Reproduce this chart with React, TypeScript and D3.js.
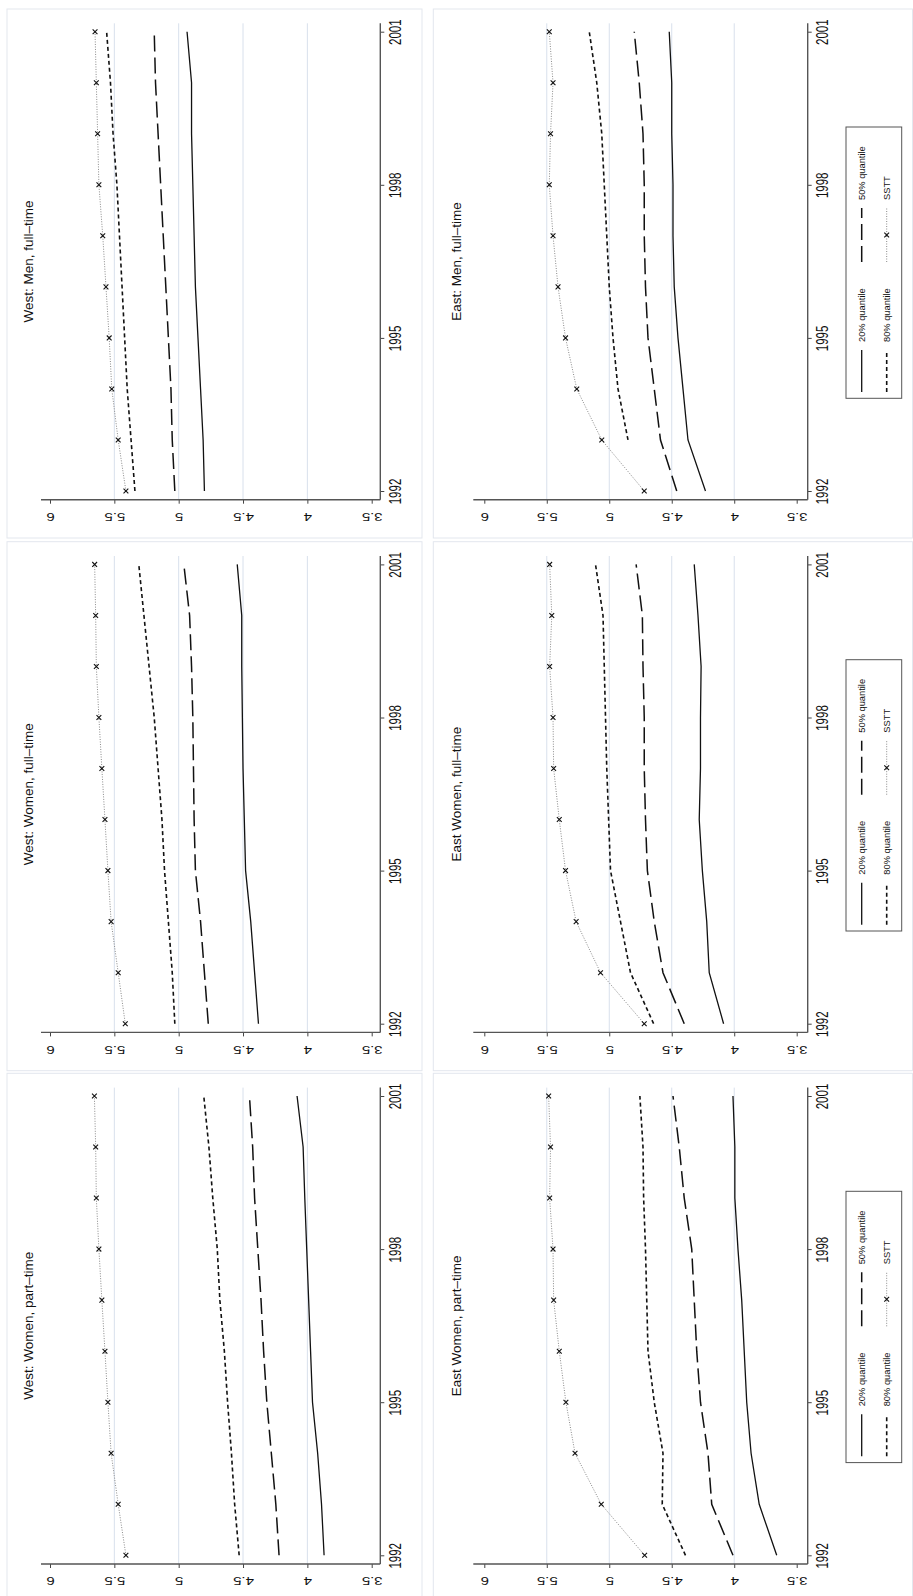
import React, { useRef, useEffect } from 'react';
import * as d3 from 'd3';

const years = [1992, 1993, 1994, 1995, 1996, 1997, 1998, 1999, 2000, 2001];
const yearTicks = [1992, 1995, 1998, 2001];
const valueTicks = [6, 5.5, 5, 4.5, 4, 3.5];
const gridValues = [5.5, 5, 4.5, 4];
const seriesNames = ['20% quantile', '50% quantile', '80% quantile', 'SSTT'];

// West: Men, full-time
const westMenQ20 = [4.8, 4.81, 4.83, 4.85, 4.87, 4.88, 4.89, 4.9, 4.9, 4.935];
const westMenQ50 = [5.03, 5.05, 5.06, 5.08, 5.1, 5.12, 5.14, 5.16, 5.18, 5.19];
const westMenQ80 = [5.34, 5.37, 5.4, 5.42, 5.44, 5.46, 5.48, 5.51, 5.53, 5.56];
const westMenSSTT = [5.41, 5.47, 5.52, 5.54, 5.565, 5.59, 5.62, 5.63, 5.64, 5.65];

// East: Men, full-time (80% quantile starts in 1993)
const eastMenQ20 = [4.23, 4.37, 4.41, 4.45, 4.48, 4.49, 4.49, 4.5, 4.5, 4.52];
const eastMenQ50 = [4.46, 4.59, 4.64, 4.69, 4.71, 4.72, 4.72, 4.73, 4.76, 4.8];
const eastMenQ80 = [null, 4.85, 4.93, 4.97, 5.0, 5.02, 5.04, 5.06, 5.1, 5.16];
const eastMenSSTT = [4.72, 5.06, 5.26, 5.35, 5.41, 5.45, 5.48, 5.47, 5.45, 5.48];

// West: Women, full-time
const westWomenFtQ20 = [4.38, 4.41, 4.44, 4.48, 4.49, 4.5, 4.505, 4.51, 4.51, 4.545];
const westWomenFtQ50 = [4.77, 4.8, 4.83, 4.87, 4.88, 4.885, 4.89, 4.9, 4.915, 4.96];
const westWomenFtQ80 = [5.03, 5.05, 5.08, 5.11, 5.13, 5.16, 5.19, 5.23, 5.27, 5.31];
const westWomenFtSSTT = [5.415, 5.47, 5.525, 5.55, 5.573, 5.597, 5.62, 5.64, 5.645, 5.653];

// East: Women, full-time
const eastWomenFtQ20 = [4.085, 4.2, 4.22, 4.255, 4.28, 4.27, 4.27, 4.265, 4.29, 4.32];
const eastWomenFtQ50 = [4.4, 4.57, 4.64, 4.695, 4.71, 4.72, 4.72, 4.73, 4.735, 4.785];
const eastWomenFtQ80 = [4.645, 4.83, 4.91, 4.99, 5.005, 5.02, 5.03, 5.04, 5.05, 5.11];
const eastWomenFtSSTT = [4.72, 5.07, 5.265, 5.35, 5.4, 5.445, 5.45, 5.477, 5.46, 5.477];

// West: Women, part-time
const westWomenPtQ20 = [3.87, 3.89, 3.92, 3.96, 3.975, 3.99, 4.005, 4.02, 4.033, 4.08];
const westWomenPtQ50 = [4.22, 4.245, 4.28, 4.315, 4.34, 4.36, 4.385, 4.41, 4.425, 4.45];
const westWomenPtQ80 = [4.53, 4.565, 4.59, 4.62, 4.645, 4.68, 4.7, 4.735, 4.765, 4.805];
const westWomenPtSSTT = [5.41, 5.47, 5.525, 5.55, 5.573, 5.597, 5.62, 5.64, 5.645, 5.655];

// East: Women, part-time
const eastWomenPtQ20 = [3.66, 3.8, 3.865, 3.9, 3.92, 3.94, 3.97, 3.995, 3.995, 4.01];
const eastWomenPtQ50 = [4.01, 4.18, 4.21, 4.27, 4.3, 4.32, 4.34, 4.4, 4.44, 4.49];
const eastWomenPtQ80 = [4.39, 4.576, 4.57, 4.64, 4.69, 4.7, 4.71, 4.725, 4.73, 4.755];
const eastWomenPtSSTT = [4.717, 5.064, 5.274, 5.347, 5.4, 5.445, 5.45, 5.477, 5.47, 5.485];

const panels = [
  { title: 'West: Men, full\u2013time', col: 0, row: 0, series: [westMenQ20, westMenQ50, westMenQ80, westMenSSTT] },
  { title: 'East: Men, full\u2013time', col: 1, row: 0, series: [eastMenQ20, eastMenQ50, eastMenQ80, eastMenSSTT] },
  { title: 'West: Women, full\u2013time', col: 0, row: 1, series: [westWomenFtQ20, westWomenFtQ50, westWomenFtQ80, westWomenFtSSTT] },
  { title: 'East Women, full\u2013time', col: 1, row: 1, series: [eastWomenFtQ20, eastWomenFtQ50, eastWomenFtQ80, eastWomenFtSSTT] },
  { title: 'West: Women, part\u2013time', col: 0, row: 2, series: [westWomenPtQ20, westWomenPtQ50, westWomenPtQ80, westWomenPtSSTT] },
  { title: 'East Women, part\u2013time', col: 1, row: 2, series: [eastWomenPtQ20, eastWomenPtQ50, eastWomenPtQ80, eastWomenPtSSTT] },
];

const FONT = '"Liberation Sans", Arial, Helvetica, sans-serif';
const W = 913;
const H = 1596;

// the whole figure is a Stata graph turned 90deg counter-clockwise
const cols = [
  { x0: 7, x1: 422, left: 41, axis: 380.3, v6: 50, v35: 371.7, titleX: 28, legend: false },
  { x0: 433.3, x1: 912.5, left: 473.3, axis: 807.7, v6: 484.3, v35: 796.7, titleX: 456.7, legend: true },
];
const rowTops = [9, 541.7, 1073.3];

const styles = [
  { dash: null, width: 1.3, color: '#111' },
  { dash: '16 6', width: 1.5, color: '#111' },
  { dash: '4 3', width: 1.6, color: '#111' },
  { dash: '1 1.5', width: 1, color: '#8a8a8a' },
];

const xMark = (g, cx, cy, r = 2.4) => {
  g.append('path')
    .attr('d', `M${cx - r},${cy - r}L${cx + r},${cy + r}M${cx - r},${cy + r}L${cx + r},${cy - r}`)
    .attr('stroke', '#111')
    .attr('stroke-width', 1.1)
    .attr('fill', 'none');
};

const App = () => {
  const ref = useRef(null);

  useEffect(() => {
    if (!ref.current) return;
    const svg = d3.select(ref.current);
    svg.selectAll('*').remove();

    svg.append('rect').attr('width', W).attr('height', H).attr('fill', '#fff');

    panels.forEach((p) => {
      const c = cols[p.col];
      const top = rowTops[p.row];
      const g = svg.append('g');

      const x = d3.scaleLinear().domain([6, 3.5]).range([c.v6, c.v35]);
      const y = d3.scaleLinear().domain([1992, 2001]).range([top + 482, top + 22.7]);
      const plotTop = top + 14.3;
      const axisY = top + 490.7;

      // panel frame
      g.append('rect')
        .attr('x', c.x0).attr('y', top)
        .attr('width', c.x1 - c.x0).attr('height', 529)
        .attr('fill', '#fff')
        .attr('stroke', '#e3e7ee')
        .attr('stroke-width', 1);

      // grid
      g.selectAll('line.grid')
        .data(gridValues)
        .enter()
        .append('line')
        .attr('class', 'grid')
        .attr('x1', (d) => x(d)).attr('x2', (d) => x(d))
        .attr('y1', plotTop).attr('y2', axisY)
        .attr('stroke', '#d8e0ec')
        .attr('stroke-width', 1);

      // value axis (bottom of screen, left axis of the original)
      const vAxis = g.append('g')
        .attr('transform', `translate(0,${axisY})`)
        .call(d3.axisBottom(x).tickValues(valueTicks).tickSize(4).tickFormat(d3.format('')));
      vAxis.select('.domain').remove();
      vAxis.attr('color', '#444');
      vAxis.selectAll('text')
        .attr('x', 0).attr('y', 0).attr('dy', '0.35em')
        .attr('transform', 'translate(0,17) scale(1.36,1) rotate(180)')
        .attr('fill', '#111')
        .style('font-size', '11px')
        .style('font-family', FONT);
      g.append('line')
        .attr('x1', c.left).attr('x2', c.axis)
        .attr('y1', axisY).attr('y2', axisY)
        .attr('stroke', '#555').attr('stroke-width', 1.4);

      // year axis (right of screen, bottom axis of the original)
      const yAxis = g.append('g')
        .attr('transform', `translate(${c.axis},0)`)
        .call(d3.axisRight(y).tickValues(yearTicks).tickSize(4).tickFormat(d3.format('d')));
      yAxis.select('.domain').remove();
      yAxis.attr('color', '#444');
      yAxis.selectAll('text')
        .attr('x', 0).attr('y', 0).attr('dy', '0.35em')
        .attr('text-anchor', 'middle')
        .attr('transform', 'translate(15,0) scale(1.36,1) rotate(-90)')
        .attr('fill', '#111')
        .style('font-size', '11.5px')
        .style('font-family', FONT);
      g.append('line')
        .attr('x1', c.axis).attr('x2', c.axis)
        .attr('y1', plotTop).attr('y2', axisY)
        .attr('stroke', '#555').attr('stroke-width', 1.4);

      // series
      p.series.forEach((vals, i) => {
        const s = styles[i];
        const pts = years.map((yr, k) => [yr, vals[k]]);
        const line = d3.line()
          .defined((d) => d[1] != null)
          .x((d) => x(d[1]))
          .y((d) => y(d[0]));
        g.append('path')
          .datum(pts)
          .attr('d', line)
          .attr('fill', 'none')
          .attr('stroke', s.color)
          .attr('stroke-width', s.width)
          .attr('stroke-dasharray', s.dash);
        if (i === 3) {
          pts.filter((d) => d[1] != null).forEach((d) => xMark(g, x(d[1]), y(d[0])));
        }
      });

      // title
      g.append('text')
        .attr('transform', `translate(${c.titleX},${(plotTop + axisY) / 2}) rotate(-90)`)
        .attr('text-anchor', 'middle')
        .attr('dy', '0.35em')
        .attr('fill', '#111')
        .style('font-size', '13.5px')
        .style('font-family', FONT)
        .text(p.title);

      // legend (only the East panels carry one)
      if (c.legend) {
        const lg = g.append('g');
        lg.append('rect')
          .attr('x', 846).attr('y', top + 118)
          .attr('width', 55.7).attr('height', 271.3)
          .attr('fill', '#fff')
          .attr('stroke', '#555')
          .attr('stroke-width', 1);
        const slots = [
          { x: 861.7, y0: top + 383, y1: top + 341 },
          { x: 861.7, y0: top + 253, y1: top + 199 },
          { x: 886.7, y0: top + 383, y1: top + 341 },
          { x: 886.7, y0: top + 253, y1: top + 199 },
        ];
        seriesNames.forEach((name, i) => {
          const s = styles[i];
          const sl = slots[i];
          lg.append('line')
            .attr('x1', sl.x).attr('x2', sl.x)
            .attr('y1', sl.y0).attr('y2', sl.y1)
            .attr('stroke', s.color)
            .attr('stroke-width', s.width)
            .attr('stroke-dasharray', s.dash);
          if (i === 3) xMark(lg, sl.x, (sl.y0 + sl.y1) / 2);
          lg.append('text')
            .attr('transform', `translate(${sl.x},${sl.y1 - 8}) rotate(-90)`)
            .attr('dy', '0.35em')
            .attr('fill', '#111')
            .style('font-size', '9.3px')
            .style('font-family', FONT)
            .text(name);
        });
      }
    });
  }, []);

  return (
    <svg
      ref={ref}
      width={W}
      height={H}
      style={{ position: 'absolute', top: 0, left: 0, display: 'block' }}
    />
  );
};

export default App;
